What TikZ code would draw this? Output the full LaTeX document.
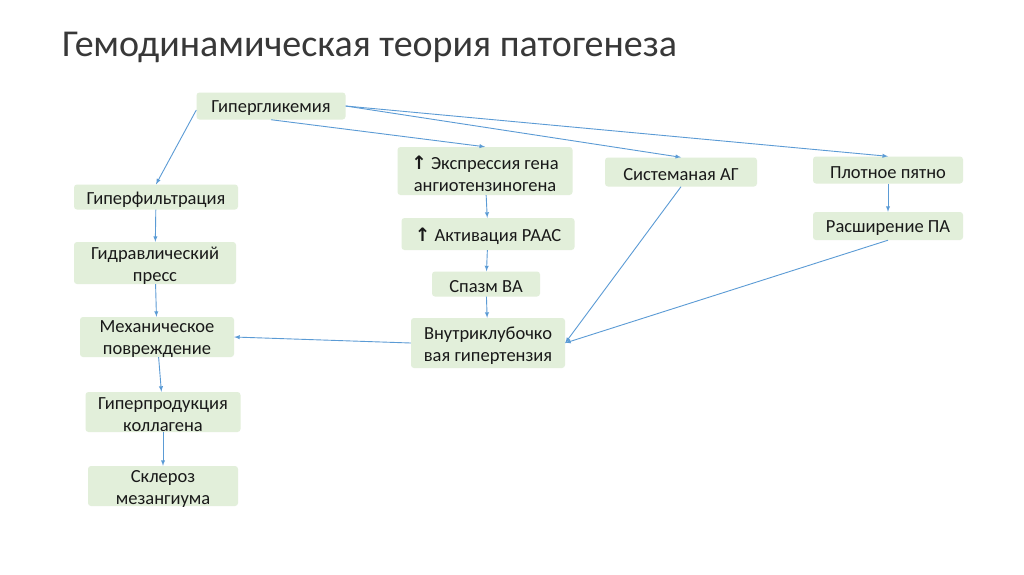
\documentclass[tikz,border=0pt]{standalone}
\usepackage{fontspec}
\setmainfont{Carlito}
\newfontfamily\arrowfont{DejaVu Sans}
\usepackage{tikz}
\definecolor{boxgreen}{HTML}{E2EFDA}
\definecolor{arrblue}{HTML}{5B9BD5}
\newcommand{\upmark}{{\arrowfont\bfseries ↑}}
\tikzset{boxtext/.style = {align=center, inner sep=0pt, yshift=-2.5pt,
    font=\fontsize{18.5}{22}\selectfont, text=black!90},
  box/.style = {fill=boxgreen, rounded corners=3pt, inner sep=0pt,
    label={[boxtext]center:#1}},
  arr/.style = {->, >=latex, arrblue, line width=0.9pt}}

\begin{document}
\begin{tikzpicture}[x=1pt, y=-1pt]
      \useasboundingbox[fill=white] (0,0) rectangle (1024,574);
      \node[anchor=base west, inner sep=0pt, font=\fontsize{38}{42}\selectfont, text=black!78] (title) at (62,56)
        {Гемодинамическая теория патогенеза};
      % left column
      \node[box={Гипергликемия}, minimum width=149, minimum height=27] (gg) at (271,106) {};
      \node[box={Гиперфильтрация}, minimum width=164, minimum height=25] (gf) at (156,197) {};
      \node[box={Гидравлический\\пресс}, minimum width=162, minimum height=42] (gp) at (155,263) {};
      \node[box={Механическое\\повреждение}, minimum width=154, minimum height=40] (mp) at (157,337) {};
      \node[box={Гиперпродукция\\коллагена}, minimum width=155, minimum height=40] (hk) at (163,412) {};
      \node[box={Склероз\\мезангиума}, minimum width=150, minimum height=40] (sm) at (163,486) {};
      % middle column
      \node[box={\upmark{} Экспрессия гена\\ангиотензиногена}, minimum width=175, minimum height=48] (eg) at (485,171) {};
      \node[box={\upmark{} Активация РААС}, minimum width=173, minimum height=32] (ar) at (488,234) {};
      \node[box={Спазм ВА}, minimum width=108, minimum height=25] (sv) at (486,284) {};
      \node[box={Внутриклубочко\\вая гипертензия}, minimum width=154, minimum height=50] (vg) at (488,343) {};
      % right part
      \node[box={Системаная АГ}, minimum width=152, minimum height=29] (ag) at (681,172) {};
      \node[box={Плотное пятно}, minimum width=150, minimum height=27] (pp) at (888,170) {};
      \node[box={Расширение ПА}, minimum width=150, minimum height=28] (rp) at (888,226) {};

      \draw[arr] (gg.west) ++(0,4) -- (gf.north);
      \draw[arr] (gg.south) -- (eg.north);
      \draw[arr] (gg.east) -- (ag.north);
      \draw[arr] (gg.east) -- (pp.north);
      \draw[arr] (gf) -- (gp);
      \draw[arr] (gp) -- (mp);
      \draw[arr] (mp) -- (hk);
      \draw[arr] (hk) -- (sm);
      \draw[arr] (eg) -- (ar);
      \draw[arr] (ar) -- (sv);
      \draw[arr] (sv) -- (vg);
      \draw[arr] (vg.west) -- (mp.east);
      \draw[arr] (ag.south) -- (vg.east);
      \draw[arr] (pp) -- (rp);
      \draw[arr] (rp.south) -- (vg.east);
    \end{tikzpicture}
\end{document}
